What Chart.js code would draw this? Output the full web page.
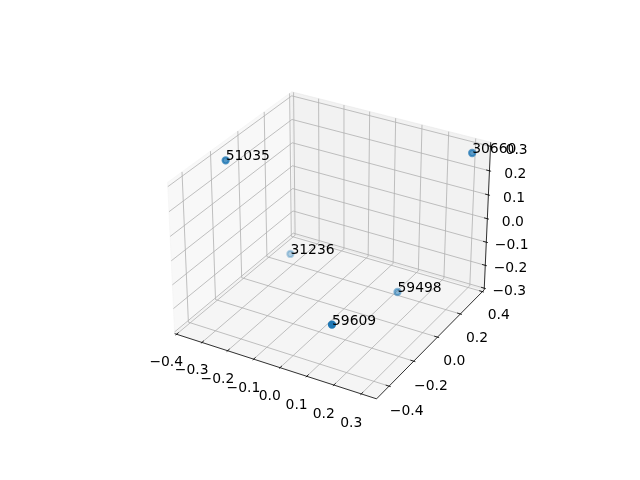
<!DOCTYPE html>
<html>
<head>
<meta charset="utf-8">
<script src="https://cdn.jsdelivr.net/npm/chart.js@4/dist/chart.umd.min.js"></script>
<style>
  html, body { margin: 0; padding: 0; background: #fff; }
  canvas { display: block; }
</style>
</head>
<body>
<canvas id="chart" width="640" height="480"></canvas>
<script>
// ids of the points and their 3d coordinates
const pointLabels = ['51035', '30660', '31236', '59498', '59609'];
const xValues = [-0.3656, 0.3092, -0.2952, 0.1323, 0.1651];
const yValues = [-0.1705, 0.3662, 0.1695, 0.1603, -0.4403];
const zValues = [0.2794, 0.2806, -0.2448, -0.2675, -0.0988];

// ticks and axis ranges
const xTicks = [-0.4, -0.3, -0.2, -0.1, 0.0, 0.1, 0.2, 0.3];
const yTicks = [-0.4, -0.2, 0.0, 0.2, 0.4];
const zTicks = [-0.3, -0.2, -0.1, 0.0, 0.1, 0.2, 0.3];
const xRange = [-0.4076, 0.355];
const yRange = [-0.4985, 0.4165];
const zRange = [-0.3072, 0.3168];

// camera like the default matplotlib 3d axes (elev 30, azim -60)
const elev = 30 * Math.PI / 180, azim = -60 * Math.PI / 180, dist = 10;
const box = [4, 4, 3].map(v => v * 1.8294640721620434 / Math.hypot(4, 4, 3));
const zoomPx = 2064, cx = 332.4, cy = 238.2;

const dot = (a, b) => a[0] * b[0] + a[1] * b[1] + a[2] * b[2];
const cross = (a, b) => [a[1] * b[2] - a[2] * b[1], a[2] * b[0] - a[0] * b[2], a[0] * b[1] - a[1] * b[0]];
const dir = [Math.cos(elev) * Math.cos(azim), Math.cos(elev) * Math.sin(azim), Math.sin(elev)];
const eye = box.map((b, i) => b / 2 + dist * dir[i]);
let right = cross([0, 0, 1], dir);
const rl = Math.hypot(...right);
right = right.map(v => v / rl);
const up = cross(dir, right);

// u, v, w are positions inside the box, 0..1
function project(u, v, w) {
  const d = [u * box[0] - eye[0], v * box[1] - eye[1], w * box[2] - eye[2]];
  const depth = -dot(d, dir);
  return { x: cx + zoomPx * dot(d, right) / depth, y: cy - zoomPx * dot(d, up) / depth, depth: depth };
}
const nx = x => (x - xRange[0]) / (xRange[1] - xRange[0]);
const ny = y => (y - yRange[0]) / (yRange[1] - yRange[0]);
const nz = z => (z - zRange[0]) / (zRange[1] - zRange[0]);

function polyline(corners) {
  return corners.map(c => { const p = project(c[0], c[1], c[2]); return { x: p.x, y: p.y }; });
}
function lines(list) {
  let out = [];
  list.forEach((l, i) => {
    if (i > 0) out.push({ x: null, y: null });
    out = out.concat(polyline(l));
  });
  return out;
}

// panes
const paneX = polyline([[0, 0, 0], [0, 1, 0], [0, 1, 1], [0, 0, 1], [0, 0, 0]]);
const paneY = polyline([[0, 1, 0], [1, 1, 0], [1, 1, 1], [0, 1, 1], [0, 1, 0]]);
const paneZ = polyline([[0, 0, 0], [1, 0, 0], [1, 1, 0], [0, 1, 0], [0, 0, 0]]);

// grid
const grid = [];
xTicks.forEach(t => { const u = nx(t); grid.push([[u, 0, 0], [u, 1, 0], [u, 1, 1]]); });
yTicks.forEach(t => { const v = ny(t); grid.push([[1, v, 0], [0, v, 0], [0, v, 1]]); });
zTicks.forEach(t => { const w = nz(t); grid.push([[0, 0, w], [0, 1, w], [1, 1, w]]); });

// axis lines and tick marks
const tOut = 0.008, tIn = 0.016, lab = 0.0841;
const axes = [[[0, 0, 0], [1, 0, 0]], [[1, 0, 0], [1, 1, 0]], [[1, 1, 0], [1, 1, 1]]];
const tickTexts = [];
const fmt = t => t.toFixed(1).replace('-', '\u2212');
xTicks.forEach(t => {
  const u = nx(t);
  axes.push([[u, -tOut, 0], [u, tIn, 0]]);
  tickTexts.push(Object.assign({ text: fmt(t) }, project(u, -lab, -lab)));
});
yTicks.forEach(t => {
  const v = ny(t);
  axes.push([[1 + tOut, v, 0], [1 - tIn, v, 0]]);
  tickTexts.push(Object.assign({ text: fmt(t) }, project(1 + lab, v, -lab)));
});
zTicks.forEach(t => {
  const w = nz(t);
  axes.push([[1 + tOut, 1, w], [1 - tIn, 1, w]]);
  tickTexts.push(Object.assign({ text: fmt(t) }, project(1 + lab, 1 + lab, w)));
});

// points with depth shading
const pts = pointLabels.map((l, i) => project(nx(xValues[i]), ny(yValues[i]), nz(zValues[i])));
const dMin = Math.min(...pts.map(p => p.depth)), dMax = Math.max(...pts.map(p => p.depth));
const drawOrder = pts.map((p, i) => i).sort((a, b) => pts[b].depth - pts[a].depth);
const pointData = drawOrder.map(i => ({ x: pts[i].x, y: pts[i].y }));
const pointColors = drawOrder.map(i => {
  const a = 1 - 0.7 * (pts[i].depth - dMin) / (dMax - dMin);
  return 'rgba(31,119,180,' + a.toFixed(3) + ')';
});

const textPlugin = {
  id: 'texts',
  afterDatasetsDraw(chart) {
    const c = chart.ctx, sx = chart.scales.x, sy = chart.scales.y;
    c.save();
    c.font = "13.9px 'DejaVu Sans'";
    c.fillStyle = '#000';
    c.textBaseline = 'alphabetic';
    c.textAlign = 'center';
    tickTexts.forEach(t => c.fillText(t.text, sx.getPixelForValue(t.x), sy.getPixelForValue(t.y) + 10.6));
    c.textAlign = 'left';
    pointLabels.forEach((l, i) => c.fillText(l, sx.getPixelForValue(pts[i].x), sy.getPixelForValue(pts[i].y)));
    c.restore();
  }
};

function lineSet(data, color, width, order, fillColor) {
  return {
    type: 'line', data: data, borderColor: color, borderWidth: width,
    backgroundColor: fillColor || 'transparent', fill: fillColor ? 'shape' : false,
    pointRadius: 0, tension: 0, spanGaps: false, order: order
  };
}

new Chart(document.getElementById('chart').getContext('2d'), {
  type: 'scatter',
  data: {
    datasets: [
      { data: pointData, pointRadius: 3.1, pointBorderWidth: 2.1,
        pointBackgroundColor: pointColors, pointBorderColor: pointColors, order: 0 },
      lineSet(lines(axes), '#000', 0.8, 1),
      lineSet(lines(grid), '#b0b0b0', 0.8, 2),
      lineSet(paneX, 'rgba(242,242,242,0.5)', 1, 3, 'rgba(242,242,242,0.5)'),
      lineSet(paneY, 'rgba(230,230,230,0.5)', 1, 4, 'rgba(230,230,230,0.5)'),
      lineSet(paneZ, 'rgba(236,236,236,0.5)', 1, 5, 'rgba(236,236,236,0.5)')
    ]
  },
  options: {
    responsive: false,
    animation: false,
    devicePixelRatio: 1,
    events: [],
    layout: { padding: 0 },
    plugins: { legend: { display: false }, tooltip: { enabled: false } },
    scales: {
      x: { type: 'linear', display: false, min: 0, max: 640 },
      y: { type: 'linear', display: false, min: 0, max: 480, reverse: true }
    }
  },
  plugins: [textPlugin]
});
</script>
</body>
</html>
